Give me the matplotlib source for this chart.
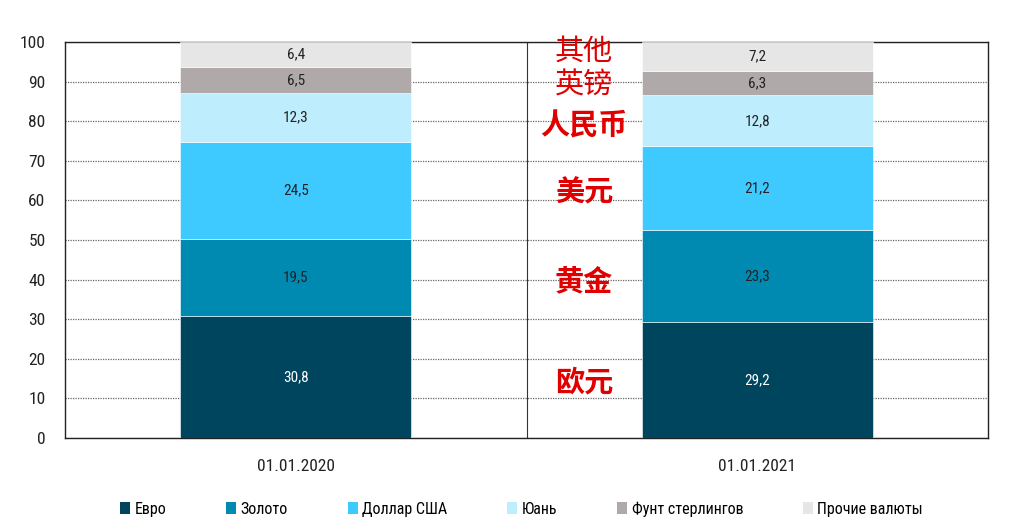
import matplotlib
matplotlib.use("Agg")
import matplotlib.pyplot as plt
from matplotlib.patches import Patch
import numpy as np

plt.rcParams['font.family'] = ['Roboto Condensed', 'Liberation Sans Narrow', 'DejaVu Sans']

dates = ["01.01.2020", "01.01.2021"]
series = ["Евро", "Золото", "Доллар США", "Юань", "Фунт стерлингов", "Прочие валюты"]
euro = [30.8, 29.2]
gold = [19.5, 23.3]
usd = [24.5, 21.2]
cny = [12.3, 12.8]
gbp = [6.5, 6.3]
other = [6.4, 7.2]
values = [euro, gold, usd, cny, gbp, other]
colors = ["#00455E", "#008AB2", "#3EC9FF", "#BEEDFD", "#AFAAA9", "#E6E6E6"]
label_colors = ["white", "#222222", "#222222", "#222222", "#222222", "#222222"]

# chinese notes next to second bar
cn_notes = ["其他", "英镑", "人民币", "美元", "黄金", "欧元"]
cn_y = [97.5, 89.0, 79.0, 62.0, 39.5, 14.0]
cn_bold = [False, False, True, True, True, True]

fig = plt.figure(figsize=(10.25, 5.32), dpi=100)
ax = fig.add_axes([65 / 1025, 1 - 438 / 532, 923 / 1025, 396 / 532])

x = np.arange(len(dates))
bottom = np.zeros(len(dates))
for vals, col, lc in zip(values, colors, label_colors):
    ax.bar(x, vals, width=0.5, bottom=bottom, color=col, edgecolor="white",
           linewidth=0.4, zorder=3)
    for xi, b, v in zip(x, bottom, vals):
        ax.text(xi, b + v / 2, f"{v:.1f}".replace(".", ","), ha="center",
                va="center", fontsize=11, color=lc, zorder=4)
    bottom += np.array(vals)

for txt, yy, bold in zip(cn_notes, cn_y, cn_bold):
    ax.text(0.625, yy, txt, ha="center", va="center", fontsize=21,
            color="#E00000", fontweight="bold" if bold else "normal",
            family=["Noto Sans CJK SC"], zorder=5)

ax.set_xlim(-0.5, 1.5)
ax.set_ylim(0, 100)
ax.set_yticks(range(0, 101, 10))
ax.set_xticks(x)
ax.set_xticklabels(dates)
ax.tick_params(axis="both", length=0, labelsize=12.5, colors="#222222")
ax.tick_params(axis="x", pad=15)
ax.tick_params(axis="y", pad=14)
ax.grid(axis="y", color="#666666", linestyle=(0, (1, 1)), linewidth=0.9, zorder=1)
ax.axvline(0.5, color="#333333", linewidth=0.8, zorder=2)
for s in ax.spines.values():
    s.set_color("#222222")
    s.set_linewidth(1.0)

handles = [Patch(facecolor=c, edgecolor="none") for c in colors]
fig.legend(handles, series, loc="center", bbox_to_anchor=(0.509, 1 - 509 / 532),
           ncol=6, frameon=False, fontsize=11.5, handlelength=0.6,
           handleheight=0.7, handletextpad=0.3, columnspacing=3.75)

fig.savefig("out.png", dpi=100)
